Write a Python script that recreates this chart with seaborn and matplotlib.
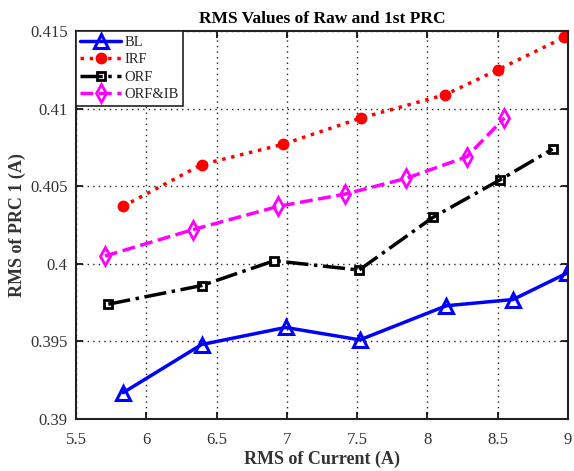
import matplotlib
matplotlib.use("Agg")
import matplotlib.pyplot as plt
import seaborn as sns
import pandas as pd

x_main = [5.836, 6.394, 6.991, 7.519, 8.135, 8.609, 8.993]
bl = [0.3917, 0.3948, 0.3959, 0.3951, 0.3973, 0.3977, 0.3994]

x_irf = [5.833, 6.395, 6.971, 7.528, 8.126, 8.500, 8.974]
irf = [0.4037, 0.4064, 0.4077, 0.4094, 0.4109, 0.4125, 0.4146]

x_orf = [5.730, 6.394, 6.910, 7.514, 8.040, 8.514, 8.891]
orf = [0.3974, 0.3986, 0.4002, 0.3996, 0.4030, 0.4054, 0.4074]

x_orfib = [5.706, 6.330, 6.938, 7.417, 7.846, 8.280, 8.548]
orfib = [0.4005, 0.4022, 0.4037, 0.4045, 0.4055, 0.4069, 0.4094]

xticks = [5.5, 6, 6.5, 7, 7.5, 8, 8.5, 9]
yticks = [0.39, 0.395, 0.4, 0.405, 0.41, 0.415]
xtick_labels = ["5.5", "6", "6.5", "7", "7.5", "8", "8.5", "9"]
ytick_labels = ["0.39", "0.395", "0.4", "0.405", "0.41", "0.415"]

sns.set_theme(style="white")
plt.rcParams['font.family'] = ['Liberation Serif', 'DejaVu Serif']
plt.rcParams['mathtext.fontset'] = 'stix'

fig = plt.figure(figsize=(5.74, 4.71), dpi=100)
ax = fig.add_axes([0.1324, 0.1104, 0.8571, 0.8236])

sns.lineplot(x=x_main, y=bl, ax=ax, color='#0000ff', linestyle='-', linewidth=2.5,
             marker='^', markersize=10, markerfacecolor='none', markeredgecolor='#0000ff',
             markeredgewidth=2.2, label='BL', sort=False)
sns.lineplot(x=x_irf, y=irf, ax=ax, color='#ff0000', linestyle=':', linewidth=2.5,
             marker='o', markersize=7.5, markerfacecolor='#ff0000', markeredgecolor='#ff0000',
             markeredgewidth=1, label='IRF', sort=False)
sns.lineplot(x=x_orf, y=orf, ax=ax, color='black', linestyle='-.', linewidth=2.5,
             marker='s', markersize=6, markerfacecolor='none', markeredgecolor='black',
             markeredgewidth=2, label='ORF', sort=False)
sns.lineplot(x=x_orfib, y=orfib, ax=ax, color='#ff00ff', linestyle='--', linewidth=2.5,
             marker='d', markersize=9, markerfacecolor='none', markeredgecolor='#ff00ff',
             markeredgewidth=2, label='ORF&IB', sort=False)

ax.set_xlim(5.5, 9)
ax.set_ylim(0.39, 0.415)
ax.set_xticks(xticks)
ax.set_xticklabels(xtick_labels)
ax.set_yticks(yticks)
ax.set_yticklabels(ytick_labels)
ax.grid(True, linestyle=(0, (1, 3)), color='#222222', linewidth=1.0)
ax.tick_params(axis='both', direction='in', length=5, width=1.2, labelsize=12,
               top=True, right=True, bottom=True, left=True, colors='black')
ax.tick_params(axis='x', pad=9)
ax.tick_params(axis='y', pad=6)
for lab in ax.get_xticklabels() + ax.get_yticklabels():
    lab.set_color('#333333')
for s in ax.spines.values():
    s.set_visible(True)
    s.set_color('#222222')
    s.set_linewidth(1.5)

ax.set_xlabel('RMS of Current (A)', fontsize=13, fontweight='bold', color='#333333', labelpad=2)
ax.set_ylabel('RMS of PRC 1 (A)', fontsize=13, fontweight='bold', color='#333333', labelpad=3)
ax.set_title('RMS Values of Raw and 1st PRC', fontsize=12.5, fontweight='bold', color='black', pad=6)

leg = ax.legend(loc='upper left', fontsize=10.5, frameon=True, fancybox=False,
                edgecolor='#222222', framealpha=1, borderaxespad=0.0,
                handlelength=2.8, handletextpad=0.2, borderpad=0.3, labelspacing=0.3)
leg.get_frame().set_linewidth(1.2)

fig.savefig('out.png', dpi=100)
